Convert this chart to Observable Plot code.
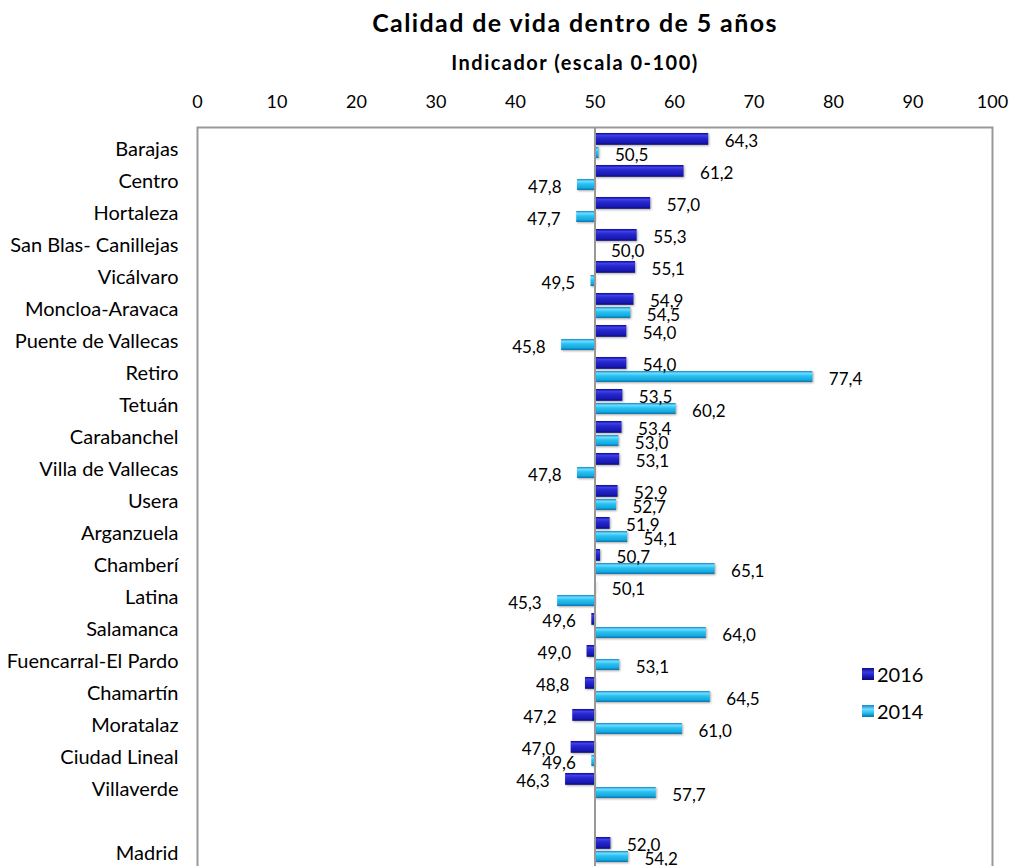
<!DOCTYPE html>
<html>
<head>
<meta charset="utf-8">
<script src="https://cdn.jsdelivr.net/npm/d3@7"></script>
<script src="https://cdn.jsdelivr.net/npm/@observablehq/plot@0.6"></script>
<style>
  html, body { margin: 0; padding: 0; background: #fff; overflow: hidden; }
  body { width: 1010px; height: 866px; position: relative; font-family: Lato, "Open Sans", sans-serif; color: #000; }
  #title { position: absolute; left: 140px; width: 870px; top: 0; height: 44px; line-height: 44px; text-align: center; font-weight: bold; font-size: 25px; letter-spacing: 1.4px; }
  #subtitle { position: absolute; left: 140px; width: 870px; top: 44px; height: 36px; line-height: 36px; text-align: center; font-weight: bold; font-size: 20px; letter-spacing: 1.5px; }
  #chart { position: absolute; left: 0; top: 80px; }
  .legend { position: absolute; left: 862px; font-size: 20px; line-height: 24px; display: flex; align-items: center; }
  .legend .sw { width: 12px; height: 12px; margin-right: 3px; box-sizing: border-box; }
</style>
</head>
<body>
<div id="title">Calidad de vida dentro de 5 años</div>
<div id="subtitle">Indicador (escala 0-100)</div>
<div id="chart"></div>
<div class="legend" style="top:662px"><div class="sw" style="background:linear-gradient(#0c0c8c,#3a3ae0 35%,#1a1ab8 70%,#0a0a70)"></div>2016</div>
<div class="legend" style="top:699px"><div class="sw" style="background:linear-gradient(#1585c5,#6fdcff 35%,#1fb8ec 70%,#0c6ea8)"></div>2014</div>
<script>
const districts = ["Barajas", "Centro", "Hortaleza", "San Blas- Canillejas", "Vicálvaro", "Moncloa-Aravaca",
  "Puente de Vallecas", "Retiro", "Tetuán", "Carabanchel", "Villa de Vallecas", "Usera", "Arganzuela",
  "Chamberí", "Latina", "Salamanca", "Fuencarral-El Pardo", "Chamartín", "Moratalaz", "Ciudad Lineal",
  "Villaverde", " ", "Madrid"];
const values2016 = [64.3, 61.2, 57.0, 55.3, 55.1, 54.9, 54.0, 54.0, 53.5, 53.4, 53.1, 52.9, 51.9,
  50.7, 50.1, 49.6, 49.0, 48.8, 47.2, 47.0, 46.3, null, 52.0];
const values2014 = [50.5, 47.8, 47.7, 50.0, 49.5, 54.5, 45.8, 77.4, 60.2, 53.0, 47.8, 52.7, 54.1,
  65.1, 45.3, 64.0, 53.1, 64.5, 61.0, 49.6, 57.7, null, 54.2];
const xTicks = [0, 10, 20, 30, 40, 50, 60, 70, 80, 90, 100];
const baseline = 50;

const d16 = districts.map((d, i) => ({cat: d, v: values2016[i]})).filter(d => d.v != null);
const d14 = districts.map((d, i) => ({cat: d, v: values2014[i]})).filter(d => d.v != null);
const fmt = v => d3.format(".1f")(v).replace(".", ",");

const labelMarks = (data, dy) => [
  Plot.text(data.filter(d => d.v >= baseline), {x: "v", y: "cat", text: d => fmt(d.v), dx: 16, dy, textAnchor: "start", fontSize: 17, fill: "#000"}),
  Plot.text(data.filter(d => d.v < baseline), {x: "v", y: "cat", text: d => fmt(d.v), dx: -16, dy, textAnchor: "end", fontSize: 17, fill: "#000"})
];

const chart = Plot.plot({
  width: 1010,
  height: 788,
  marginTop: 47,
  marginLeft: 197,
  marginRight: 18,
  marginBottom: 0,
  style: {fontFamily: "Lato, 'Open Sans', sans-serif", fontSize: "16px", color: "#000", background: "#fff"},
  x: {domain: [0, 100], label: null},
  y: {domain: districts, padding: 0, label: null},
  marks: [
    Plot.frame({stroke: "#999", strokeWidth: 2}),
    Plot.axisX(xTicks, {anchor: "top", tickSize: 0, tickPadding: 20, fontSize: 18, label: null, tickFormat: d => d}),
    Plot.axisY({tickSize: 0, tickPadding: 19, fontSize: 20, dy: 3, label: null}),
    Plot.barX(d16, {x1: baseline, x2: "v", y: "cat", insetTop: 3, insetBottom: 17.2, fill: "url(#g2016)", className: "bar"}),
    Plot.barX(d14, {x1: baseline, x2: "v", y: "cat", insetTop: 17, insetBottom: 4, fill: "url(#g2014)", className: "bar"}),
    Plot.ruleX([baseline], {stroke: "#999", strokeWidth: 2}),
    ...labelMarks(d16, -5),
    ...labelMarks(d14, 9)
  ]
});

// gradient definitions for the bevelled bar look
const svg = d3.select(chart);
const defs = svg.insert("defs", ":first-child");
const addGrad = (id, stops) => {
  const g = defs.append("linearGradient").attr("id", id).attr("x1", 0).attr("y1", 0).attr("x2", 0).attr("y2", 1);
  stops.forEach(([o, c]) => g.append("stop").attr("offset", o).attr("stop-color", c));
};
addGrad("g2016", [[0, "#0c0c8c"], [0.2, "#4040e6"], [0.45, "#2626cf"], [0.8, "#1818b4"], [1, "#0a0a70"]]);
addGrad("g2014", [[0, "#1585c5"], [0.2, "#70dcff"], [0.45, "#25c2f2"], [0.8, "#16a8e0"], [1, "#0c6ea8"]]);
svg.selectAll("[class*='bar'] rect").style("filter", "drop-shadow(1px 1px 1px rgba(0,0,0,0.35))");

document.getElementById("chart").appendChild(chart);
</script>
</body>
</html>
